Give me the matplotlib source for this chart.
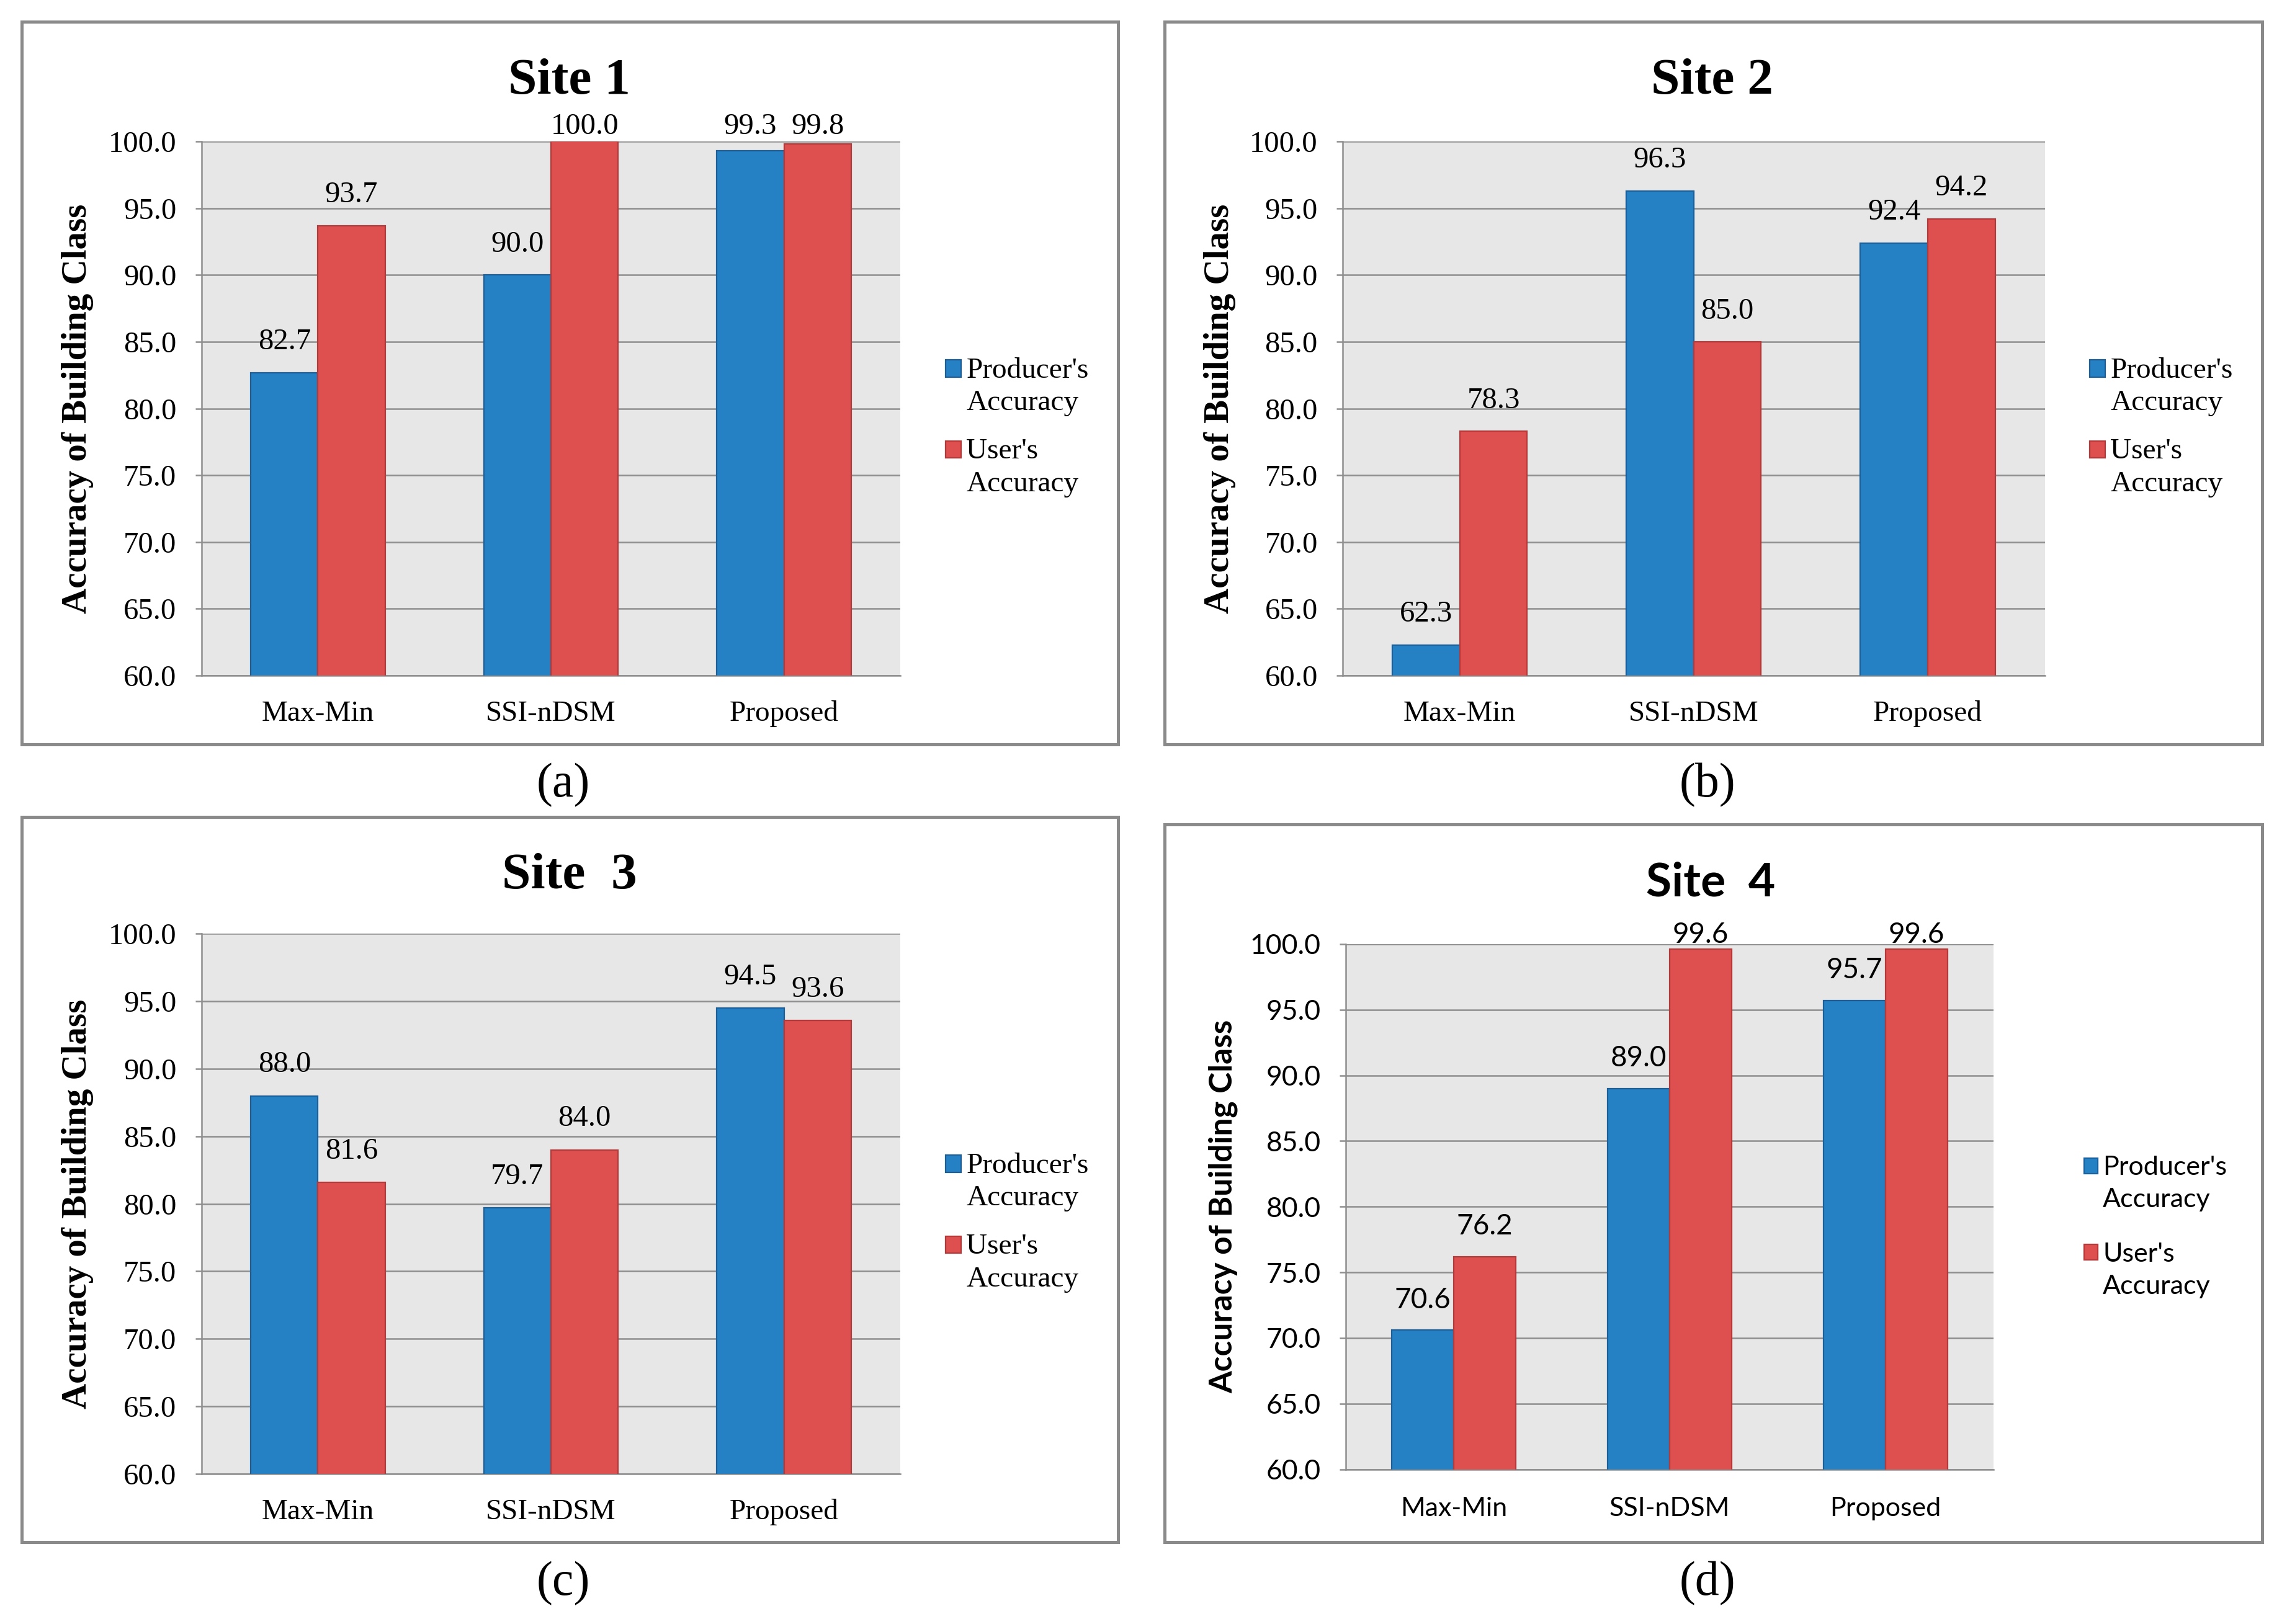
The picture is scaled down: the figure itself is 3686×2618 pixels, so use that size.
import matplotlib
matplotlib.use('Agg')
import matplotlib.pyplot as plt
from matplotlib.patches import Rectangle, Patch
from matplotlib.legend_handler import HandlerPatch
import numpy as np

categories = ['Max-Min', 'SSI-nDSM', 'Proposed']
series_names = ["Producer's\nAccuracy", "User's\nAccuracy"]
titles = ['Site 1', 'Site 2', 'Site  3', 'Site  4']
panel_tags = ['(a)', '(b)', '(c)', '(d)']
y_label = 'Accuracy of Building Class'

producer_site1 = [82.7, 90.0, 99.3]
user_site1 = [93.7, 100.0, 99.8]
producer_site2 = [62.3, 96.3, 92.4]
user_site2 = [78.3, 85.0, 94.2]
producer_site3 = [88.0, 79.7, 94.5]
user_site3 = [81.6, 84.0, 93.6]
producer_site4 = [70.6, 89.0, 95.7]
user_site4 = [76.2, 99.6, 99.6]

y_ticks = [60.0, 65.0, 70.0, 75.0, 80.0, 85.0, 90.0, 95.0, 100.0]

producers = [producer_site1, producer_site2, producer_site3, producer_site4]
users = [user_site1, user_site2, user_site3, user_site4]

BLUE = '#2581C4'
BLUE_EDGE = '#1D5F98'
RED = '#DE4F4F'
RED_EDGE = '#B23A3A'
BG = '#E7E7E7'
GRID = '#8E8E8E'
BOX = '#8A8A8A'

W, H = 1567.0, 1113.0  # reference layout units


def fx(x):
    return x / W


def fy(y):
    return 1 - y / H


def make_top_line_patch(shift_factor):
    def top_line_patch(legend, orig_handle, xdescent, ydescent, width, height, fontsize):
        # align the square with the first line of a two-line label
        shift = shift_factor * fontsize
        return Rectangle((-xdescent, -ydescent + shift), width, height)
    return top_line_patch


SERIF = ['Liberation Serif', 'DejaVu Serif']
SANS = ['Lato', 'DejaVu Sans']

serif_sizes = dict(tick=17.5, cat=17, val=17.5, title=30, ylab=20.5, leg=17, legsp=0.75,
                   linesp=1.31, shift=0.62, catpad=14.5)
sans_sizes = dict(tick=16, cat=15.5, val=16.5, title=27, ylab=18.5, leg=15.5, legsp=1.15,
                  linesp=1.45, shift=0.68, catpad=16)

panels = [
    dict(ax=(138, 97, 617, 463), box=(15, 15, 766, 510), title=(390, 64), tag=(386, 538),
         ylab=53, leg=(648, 293), serif=True, clamp=101.1),
    dict(ax=(920, 97, 1401, 463), box=(798, 15, 1550, 510), title=(1173, 64), tag=(1170, 538),
         ylab=836, leg=(1432, 293), serif=True, clamp=101.1),
    dict(ax=(138, 640, 617, 1010), box=(15, 560, 766, 1057), title=(390, 609), tag=(386, 1085),
         ylab=53, leg=(648, 838), serif=True, clamp=101.1),
    dict(ax=(922, 647, 1366, 1007), box=(798, 565, 1550, 1057), title=(1172, 614), tag=(1170, 1085),
         ylab=838, leg=(1428, 841), serif=False, clamp=100.7),
]

fig = plt.figure(figsize=(18.43, 13.09), dpi=200)
fig.patch.set_facecolor('white')

for i, p in enumerate(panels):
    fam = SERIF if p['serif'] else SANS
    sz = serif_sizes if p['serif'] else sans_sizes
    x0, y0, x1, y1 = p['box']
    fig.add_artist(Rectangle((fx(x0), fy(y1)), fx(x1) - fx(x0), fy(y0) - fy(y1),
                             transform=fig.transFigure, facecolor='white',
                             edgecolor=BOX, linewidth=1.8, zorder=0))
    a0, b0, a1, b1 = p['ax']
    ax = fig.add_axes([fx(a0), fy(b1), fx(a1) - fx(a0), fy(b0) - fy(b1)])
    ax.set_facecolor(BG)
    x = np.arange(len(categories))
    bw = 0.288
    ax.bar(x - bw / 2, producers[i], bw, color=BLUE, edgecolor=BLUE_EDGE,
           linewidth=0.8, zorder=3, label=series_names[0])
    ax.bar(x + bw / 2, users[i], bw, color=RED, edgecolor=RED_EDGE,
           linewidth=0.8, zorder=3, label=series_names[1])
    ax.set_ylim(60, 100)
    ax.set_xlim(-0.5, 2.5)
    ax.set_yticks(y_ticks)
    ax.set_yticklabels([f'{t:.1f}' for t in y_ticks], family=fam, fontsize=sz['tick'])
    ax.set_xticks(x)
    ax.set_xticklabels(categories, family=fam, fontsize=sz['cat'])
    ax.yaxis.grid(True, color=GRID, linewidth=0.9, zorder=0)
    ax.set_axisbelow(True)
    for s in ['top', 'right']:
        ax.spines[s].set_visible(False)
    for s in ['left', 'bottom']:
        ax.spines[s].set_color(GRID)
        ax.spines[s].set_linewidth(0.9)
    ax.tick_params(axis='y', length=3.5, color=GRID, width=0.9, pad=11)
    ax.tick_params(axis='x', length=0, pad=sz['catpad'])
    for xs, vals in [(x - bw / 2, producers[i]), (x + bw / 2, users[i])]:
        for xx, v in zip(xs, vals):
            ax.text(xx, min(v + 2.3, p['clamp']), f'{v:.1f}', ha='center', va='center',
                    family=fam, fontsize=sz['val'], zorder=5, clip_on=False)
    fig.text(fx(p['title'][0]), fy(p['title'][1]), titles[i], ha='center', va='baseline',
             family=fam, fontsize=sz['title'], fontweight='bold')
    fig.text(fx(p['ylab']), (fy(b0) + fy(b1)) / 2, y_label, rotation=90, ha='center',
             va='center', family=fam, fontsize=sz['ylab'], fontweight='bold')
    fig.text(fx(p['tag'][0]), fy(p['tag'][1]), panel_tags[i], ha='center', va='center',
             family=SERIF, fontsize=28)
    handles = [Patch(facecolor=BLUE, edgecolor=BLUE_EDGE, linewidth=0.8),
               Patch(facecolor=RED, edgecolor=RED_EDGE, linewidth=0.8)]
    leg = ax.legend(handles, series_names, loc='center left',
                    bbox_to_anchor=(fx(p['leg'][0]), fy(p['leg'][1])),
                    bbox_transform=fig.transFigure, frameon=False,
                    prop=dict(family=fam, size=sz['leg']), handlelength=0.52, handleheight=0.52,
                    handletextpad=0.18, labelspacing=sz['legsp'], borderpad=0, borderaxespad=0,
                    handler_map={Patch: HandlerPatch(patch_func=make_top_line_patch(sz['shift']))})
    for t in leg.get_texts():
        t.set_linespacing(sz['linesp'])

fig.savefig('out.png', dpi=200, facecolor='white')
